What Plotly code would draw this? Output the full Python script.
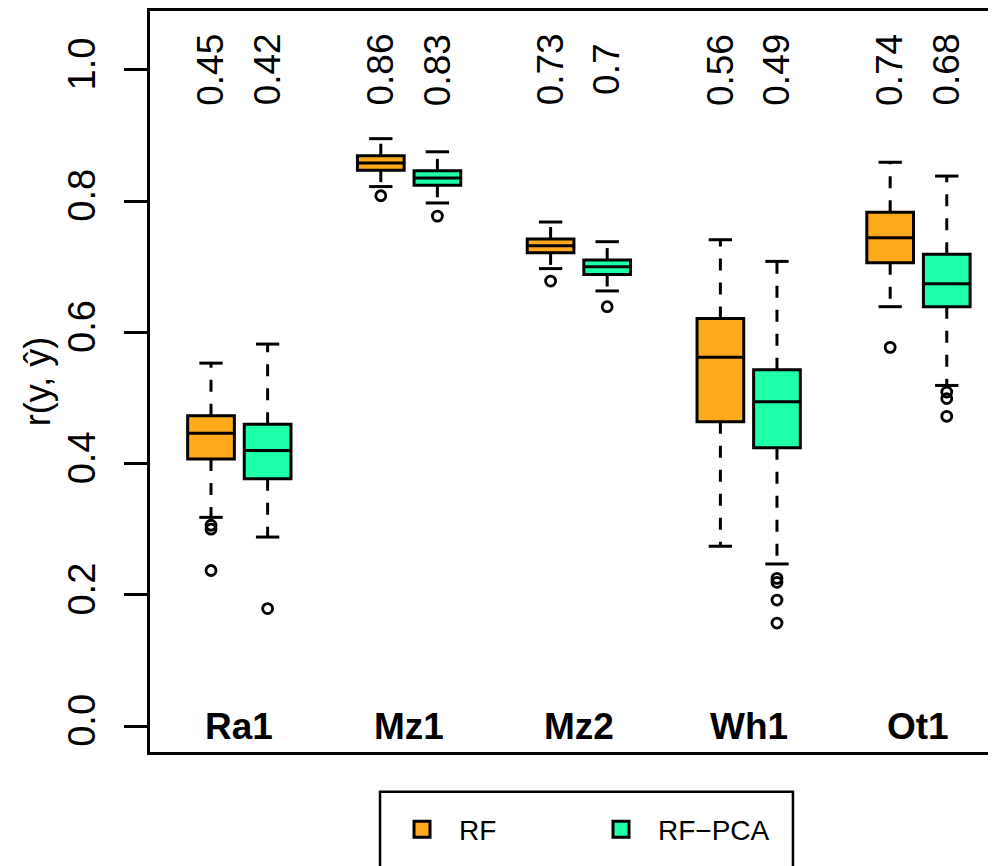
import plotly.graph_objects as go

# ---------------- data ----------------
categories = ["Ra1", "Mz1", "Mz2", "Wh1", "Ot1"]
series_names = ["RF", "RF\u2212PCA"]

rf_lower = [0.318, 0.822, 0.697, 0.274, 0.639]
rf_q1 = [0.407, 0.847, 0.721, 0.4635, 0.706]
rf_median = [0.446, 0.858, 0.732, 0.562, 0.744]
rf_q3 = [0.473, 0.869, 0.742, 0.621, 0.783]
rf_upper = [0.553, 0.895, 0.768, 0.741, 0.859]
rf_outliers = [[0.300, 0.306, 0.237], [0.808], [0.678], [], [0.577]]
rf_labels = ["0.45", "0.86", "0.73", "0.56", "0.74"]

pca_lower = [0.288, 0.797, 0.663, 0.247, 0.519]
pca_q1 = [0.377, 0.824, 0.688, 0.424, 0.639]
pca_median = [0.420, 0.835, 0.700, 0.494, 0.674]
pca_q3 = [0.460, 0.846, 0.710, 0.543, 0.719]
pca_upper = [0.582, 0.875, 0.738, 0.708, 0.838]
pca_outliers = [[0.179], [0.777], [0.639], [0.225, 0.219, 0.192, 0.157], [0.509, 0.499, 0.472]]
pca_labels = ["0.42", "0.83", "0.7", "0.49", "0.68"]

y_ticks = [0.0, 0.2, 0.4, 0.6, 0.8, 1.0]

# ---------------- styling ----------------
FONT = "Liberation Sans, Arial, Helvetica, sans-serif"
COL_RF = "#FFAA1C"
COL_PCA = "#1EFFAA"
BOX_W = 0.825
CAP_HALF = BOX_W / 4
LW = 3

series = [
    dict(name=series_names[0], color=COL_RF, lo=rf_lower, q1=rf_q1, med=rf_median,
         q3=rf_q3, up=rf_upper, out=rf_outliers, labels=rf_labels, offset=1),
    dict(name=series_names[1], color=COL_PCA, lo=pca_lower, q1=pca_q1, med=pca_median,
         q3=pca_q3, up=pca_upper, out=pca_outliers, labels=pca_labels, offset=2),
]

fig = go.Figure()
annotations = []

for s in series:
    pos = [3 * i + s["offset"] for i in range(len(categories))]
    # dashed whiskers
    wx, wy = [], []
    for p, lo, q1, q3, up in zip(pos, s["lo"], s["q1"], s["q3"], s["up"]):
        wx += [p, p, None, p, p, None]
        wy += [q3, up, None, q1, lo, None]
    fig.add_trace(go.Scatter(x=wx, y=wy, mode="lines", showlegend=False, hoverinfo="skip",
                             line=dict(color="black", width=LW, dash="12px,12px")))
    # staples
    cx, cy = [], []
    for p, lo, up in zip(pos, s["lo"], s["up"]):
        cx += [p - CAP_HALF, p + CAP_HALF, None, p - CAP_HALF, p + CAP_HALF, None]
        cy += [up, up, None, lo, lo, None]
    fig.add_trace(go.Scatter(x=cx, y=cy, mode="lines", showlegend=False, hoverinfo="skip",
                             line=dict(color="black", width=LW)))
    # boxes
    fig.add_trace(go.Box(
        x=pos, q1=s["q1"], median=s["med"], q3=s["q3"],
        lowerfence=s["q1"], upperfence=s["q3"],
        name=s["name"], fillcolor=s["color"], width=BOX_W,
        line=dict(color="black", width=LW), showlegend=False,
        boxpoints=False,
    ))
    # outliers
    ox, oy = [], []
    for p, outs in zip(pos, s["out"]):
        for v in outs:
            ox.append(p)
            oy.append(v)
    fig.add_trace(go.Scatter(x=ox, y=oy, mode="markers", showlegend=False,
                             marker=dict(symbol="circle-open", size=10,
                                         color="black", line=dict(width=2.8))))
    # legend entry
    fig.add_trace(go.Scatter(x=[None], y=[None], mode="markers", name=s["name"],
                             marker=dict(symbol="square", size=22, color=s["color"],
                                         line=dict(color="black", width=3))))
    # value labels at top
    for p, lab in zip(pos, s["labels"]):
        annotations.append(dict(x=p, y=1.0, xref="x", yref="y", text=lab, showarrow=False,
                                textangle=-90, font=dict(family=FONT, size=37, color="black")))

# category labels inside plot
for i, c in enumerate(categories):
    annotations.append(dict(x=3 * i + 1.5, y=0.0, xref="x", yref="y", text="<b>%s</b>" % c,
                            showarrow=False, font=dict(family=FONT, size=37, color="black")))

fig.update_layout(
    width=988, height=858,
    margin=dict(l=142, r=0, t=0, b=114),
    paper_bgcolor="white", plot_bgcolor="white",
    font=dict(family=FONT, color="black"),
    annotations=annotations,
    showlegend=True,
    legend=dict(orientation="h", x=0.2778, xanchor="left", y=-0.1048, yanchor="middle",
                font=dict(family=FONT, size=28, color="black"),
                entrywidth=120, entrywidthmode="pixels", itemwidth=64, itemsizing="trace",
                bgcolor="rgba(0,0,0,0)", borderwidth=0),
    shapes=[dict(type="rect", xref="paper", yref="paper", x0=0.2719, x1=0.7600,
                 y0=-0.0538, y1=-0.19, line=dict(color="black", width=2.5),
                 fillcolor="rgba(0,0,0,0)")],
)

fig.update_xaxes(range=[-0.078, 14.87], showline=True, linecolor="black", linewidth=LW,
                 mirror=True, showticklabels=False, ticks="", showgrid=False, zeroline=False)
fig.update_yaxes(range=[-0.0395, 1.0895], showline=True, linecolor="black", linewidth=LW,
                 mirror=False, ticks="outside", ticklen=23, tickwidth=LW, tickcolor="black",
                 tickvals=y_ticks, tickformat=".1f", tickangle=-90,
                 tickfont=dict(family=FONT, size=38, color="black"), ticklabelstandoff=14,
                 showgrid=False, zeroline=False,
                 title=dict(text="r(y, \u0177)", font=dict(family=FONT, size=36, color="black"),
                            standoff=0))

fig.write_html("out.html")
